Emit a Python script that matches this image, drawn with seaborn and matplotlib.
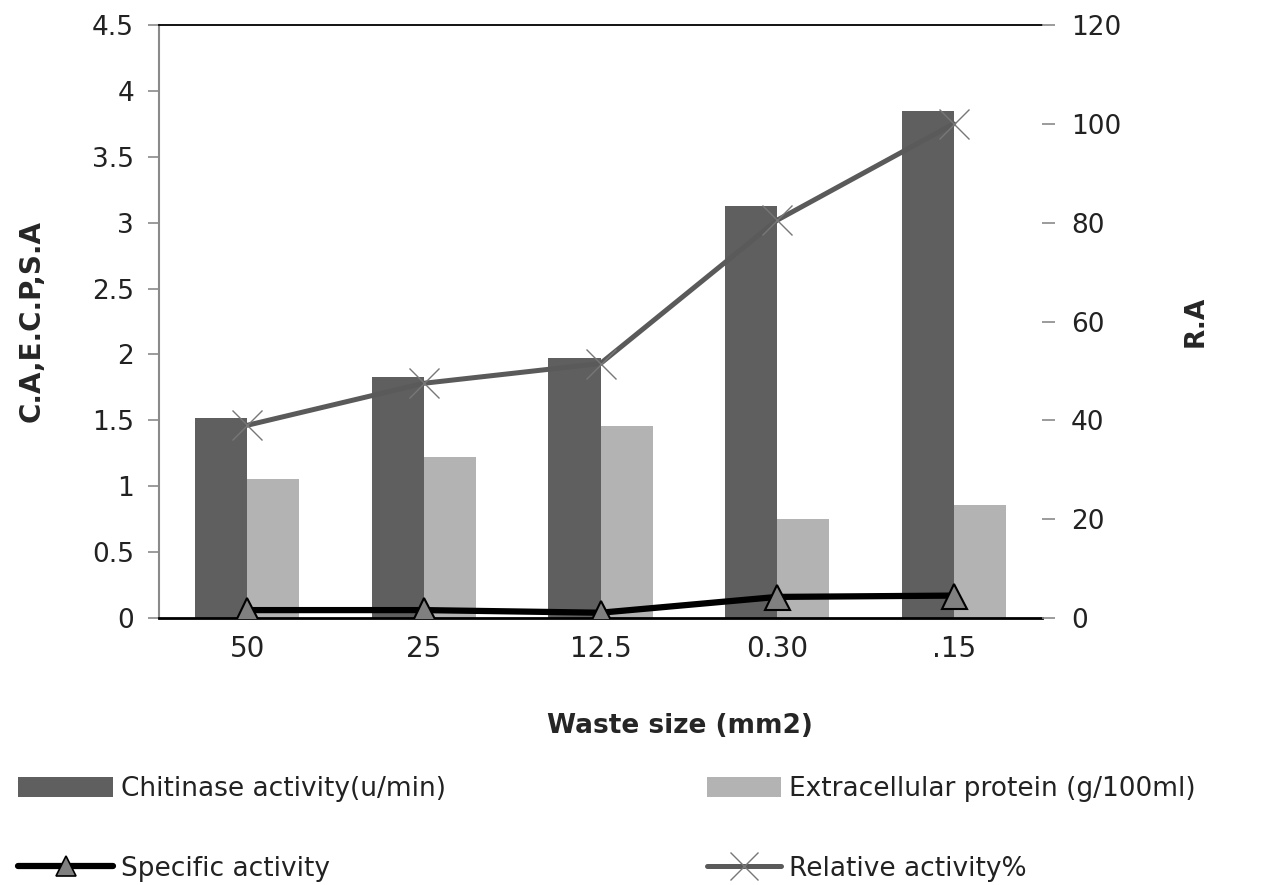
import numpy as np
import pandas as pd
import matplotlib
matplotlib.use("Agg")
import matplotlib.pyplot as plt
from matplotlib.patches import Patch
from matplotlib.lines import Line2D
import seaborn as sns

# ---- data ----
sizes = ['50', '25', '12.5', '0.30', '.15']
chitinase = [1.52, 1.83, 1.97, 3.13, 3.85]
protein = [1.055, 1.22, 1.46, 0.75, 0.855]
specific = [0.06, 0.06, 0.04, 0.16, 0.17]
relative = [39, 47.5, 51.5, 80.5, 100]

left_ticks = [0, 0.5, 1, 1.5, 2, 2.5, 3, 3.5, 4, 4.5]
left_ticklabels = ['0', '0.5', '1', '1.5', '2', '2.5', '3', '3.5', '4', '4.5']
right_ticks = [0, 20, 40, 60, 80, 100, 120]

lab_chi = 'Chitinase activity(u/min)'
lab_pro = 'Extracellular protein (g/100ml)'
lab_spe = 'Specific activity'
lab_rel = 'Relative activity%'

sns.set_style("white")
plt.rcParams['font.family'] = ['DejaVu Sans']

DARK = '#5f5f5f'
LIGHT = '#b3b3b3'
REL = '#5a5a5a'

bars = pd.DataFrame({
    'size': sizes * 2,
    'value': chitinase + protein,
    'series': [lab_chi] * len(sizes) + [lab_pro] * len(sizes),
})
pos = np.arange(len(sizes))
lines = pd.DataFrame({'pos': pos, 'specific': specific, 'relative': relative})

fig = plt.figure(figsize=(12.81, 8.85), dpi=100)
W, H = 1281, 885
ax = fig.add_axes([159 / W, 1 - 618 / H, 883 / W, 593 / H])

sns.barplot(data=bars, x='size', y='value', hue='series', order=sizes,
            hue_order=[lab_chi, lab_pro], palette=[DARK, LIGHT],
            width=0.59, gap=0, saturation=1, legend=False, ax=ax,
            edgecolor='none', linewidth=0, errorbar=None)

sns.lineplot(data=lines, x='pos', y='specific', ax=ax, color='black',
             linewidth=4.5, marker='^', markersize=18,
             markerfacecolor='#808080', markeredgecolor='black',
             markeredgewidth=1.5, legend=False, zorder=5)

ax.set_xlim(-0.5, len(sizes) - 0.5)
ax.set_ylim(0, 4.5)
ax.set_yticks(left_ticks)
ax.set_yticklabels(left_ticklabels)
ax.set_xticks(pos)
ax.set_xticklabels(sizes)

ax2 = ax.twinx()
sns.lineplot(data=lines, x='pos', y='relative', ax=ax2, color=REL,
             linewidth=3.6, marker='x', markersize=22,
             markeredgecolor='#777777', markeredgewidth=1.0, legend=False)
ax2.set_ylim(0, 120)
ax2.set_yticks(right_ticks)
ax2.set_xlim(-0.5, len(sizes) - 0.5)

# spines
for s in ['top', 'bottom', 'left', 'right']:
    ax2.spines[s].set_visible(False)
ax.spines['right'].set_visible(False)
ax.spines['top'].set_color('black')
ax.spines['top'].set_linewidth(1.3)
ax.spines['bottom'].set_color('black')
ax.spines['bottom'].set_linewidth(2)
ax.spines['left'].set_color('#8a8a8a')
ax.spines['left'].set_linewidth(1.5)

ax.tick_params(axis='y', which='both', left=True, direction='out', length=8,
               width=1.2, color='#8a8a8a', labelsize=19, labelcolor='#222222', pad=10)
ax.tick_params(axis='x', which='both', bottom=False, length=0, labelsize=20,
               labelcolor='#222222', pad=12)
ax2.tick_params(axis='y', which='both', right=True, direction='out', length=9,
                width=1.2, color='#8a8a8a', labelsize=19, labelcolor='#222222', pad=12)

ax.set_xlabel('Waste size (mm2)', fontsize=19, fontweight='bold')
ax.xaxis.set_label_coords((680 - 159) / 883, -(713 - 618) / 593)
ax.set_ylabel('C.A,E.C.P,S.A', fontsize=20, fontweight='bold')
ax.yaxis.set_label_coords(-(159 - 46) / 883, 0.5)
ax2.set_ylabel('R.A', fontsize=19, fontweight='bold', rotation=90)
ax2.yaxis.set_label_coords(1 + (1183 - 1042) / 883, 0.5)

# legends (two columns)
h_chi = Patch(facecolor=DARK, edgecolor='none')
h_pro = Patch(facecolor=LIGHT, edgecolor='none')
h_spe = Line2D([], [], color='black', linewidth=4.5, marker='^', markersize=15,
               markerfacecolor='#808080', markeredgecolor='black', markeredgewidth=1.2)
h_rel = Line2D([], [], color=REL, linewidth=3.6, marker='x', markersize=20,
               markeredgecolor='#777777', markeredgewidth=1.0)

common = dict(frameon=False, fontsize=19, handleheight=0.8,
              handletextpad=0.3, labelspacing=2.05, borderpad=0, borderaxespad=0,
              loc='upper left')
leg1 = fig.legend([h_chi, h_spe], [lab_chi, lab_spe], handlelength=3.6,
                  bbox_to_anchor=(18 / W, 1 - 776 / H), **common)
for t in leg1.get_texts():
    t.set_color('#222222')
leg2 = fig.legend([h_pro, h_rel], [lab_pro, lab_rel], handlelength=2.8,
                  bbox_to_anchor=(707 / W, 1 - 776 / H), **common)
for t in leg2.get_texts():
    t.set_color('#222222')

fig.savefig('out.png', dpi=100)
